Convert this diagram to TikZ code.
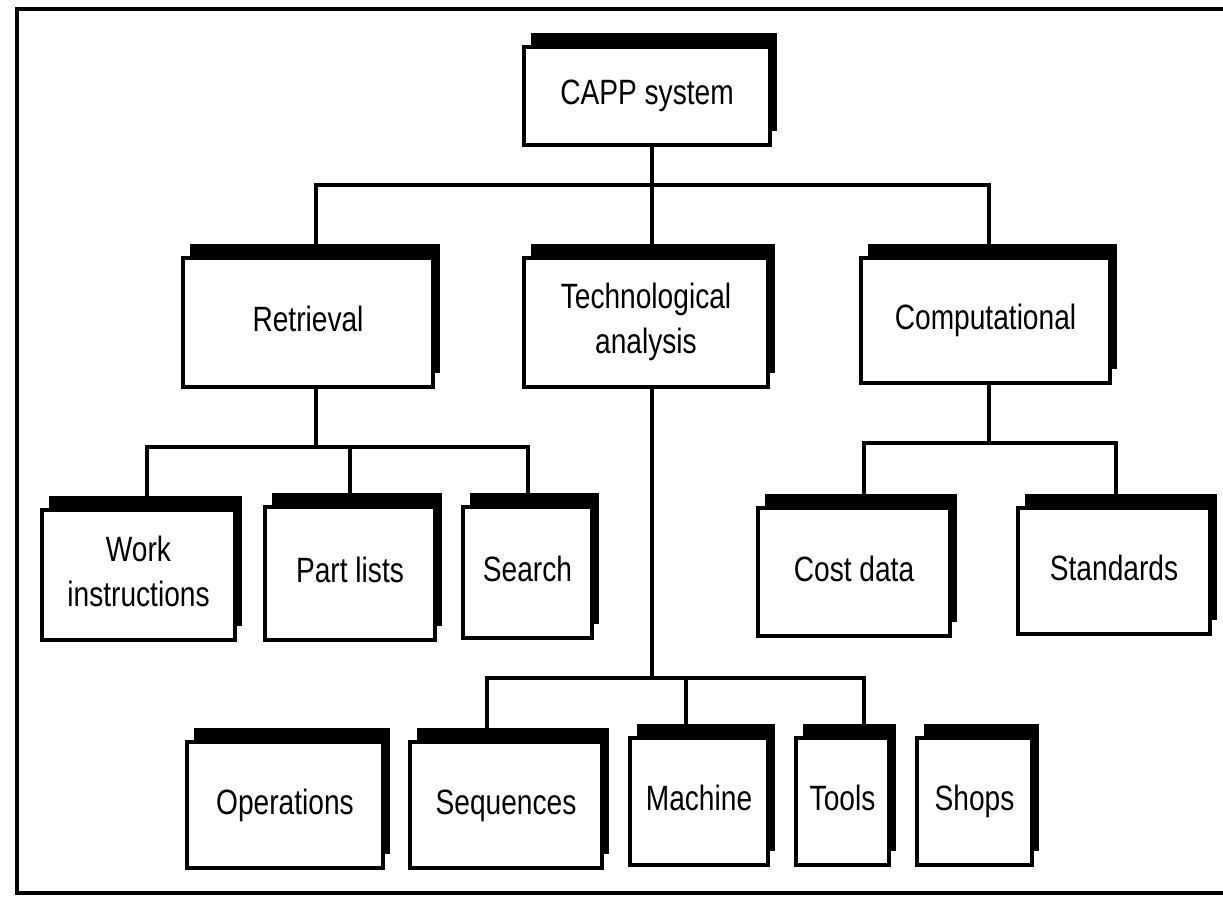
\documentclass[tikz,border=0pt]{standalone}
\usepackage{fontspec}
\setmainfont[FakeStretch=0.8]{Liberation Sans}
\usetikzlibrary{shadows}

\begin{document}
\begin{tikzpicture}[x=0.025cm, y=-0.025cm,
  box/.style={draw=black, line width=2.2pt, fill=white, align=center, inner sep=0pt,
    font=\fontsize{25}{32}\selectfont,
    general shadow={fill=black, shadow xshift=0.175cm, shadow yshift=0.35cm}},
  conn/.style={line width=2.2pt, line join=miter}]

\useasboundingbox (0,0) rectangle (1223,898);

% page frame
\draw[line width=2.2pt] (1223,9) -- (17,9) -- (17,893) -- (1223,893);

% boxes: \bx{name}{x1}{y1}{x2}{y2}{label}
\newcommand\bx[6]{%
  \node[box, minimum width={(#4-#2)*0.025cm}, minimum height={(#5-#3)*0.025cm}]
    (#1) at ({(#2+#4)/2},{(#3+#5)/2}) {#6};}

\bx{capp}{524}{47}{770}{145}{CAPP system\strut}
\bx{ret}{183}{258}{433}{387}{Retrieval\strut}
\bx{tech}{524}{258}{768}{387}{Technological\strut\\analysis\strut}
\bx{comp}{861}{258}{1110}{383}{Computational\strut}
\bx{work}{42}{510}{235}{640}{Work\strut\\instructions\strut}
\bx{part}{265}{507}{435}{640}{Part lists\strut}
\bx{search}{463}{507}{592}{638}{Search\strut}
\bx{cost}{758}{508}{950}{636}{Cost data\strut}
\bx{std}{1018}{508}{1210}{634}{Standards\strut}
\bx{ops}{187}{742}{383}{868}{Operations\strut}
\bx{seq}{410}{742}{602}{868}{Sequences\strut}
\bx{mach}{630}{738}{768}{865}{Machine\strut}
\bx{tools}{796}{738}{889}{865}{Tools\strut}
\bx{shops}{917}{738}{1032}{865}{Shops\strut}

% bus junctions
\coordinate (b1L) at (316,185);
\coordinate (b1M) at (652,185);
\coordinate (b1R) at (989,185);
\coordinate (rt) at (316,447);
\coordinate (r1) at (147,447);
\coordinate (r2) at (350,447);
\coordinate (r3) at (528,447);
\coordinate (ct) at (989,443);
\coordinate (c1) at (864,443);
\coordinate (c2) at (1116,443);
\coordinate (tt) at (652,678);
\coordinate (t1) at (487,678);
\coordinate (t2) at (686,678);
\coordinate (t3) at (864,678);

% top level
\draw[conn] (ret.north -| b1L) -- (b1L) -- (b1R) -- (comp.north -| b1R);
\draw[conn] (capp.south -| b1M) -- (tech.north -| b1M);

% retrieval branch
\draw[conn] (ret.south -| rt) -- (rt);
\draw[conn] (work.north -| r1) -- (r1) -- (r3) -- (search.north -| r3);
\draw[conn] (r2) -- (part.north -| r2);

% computational branch
\draw[conn] (comp.south -| ct) -- (ct);
\draw[conn] (cost.north -| c1) -- (c1) -- (c2) -- (std.north -| c2);

% technological analysis branch
\draw[conn] (tech.south -| tt) -- (tt);
\draw[conn] (seq.north -| t1) -- (t1) -- (t3) -- (tools.north -| t3);
\draw[conn] (t2) -- (mach.north -| t2);

\end{tikzpicture}
\end{document}
